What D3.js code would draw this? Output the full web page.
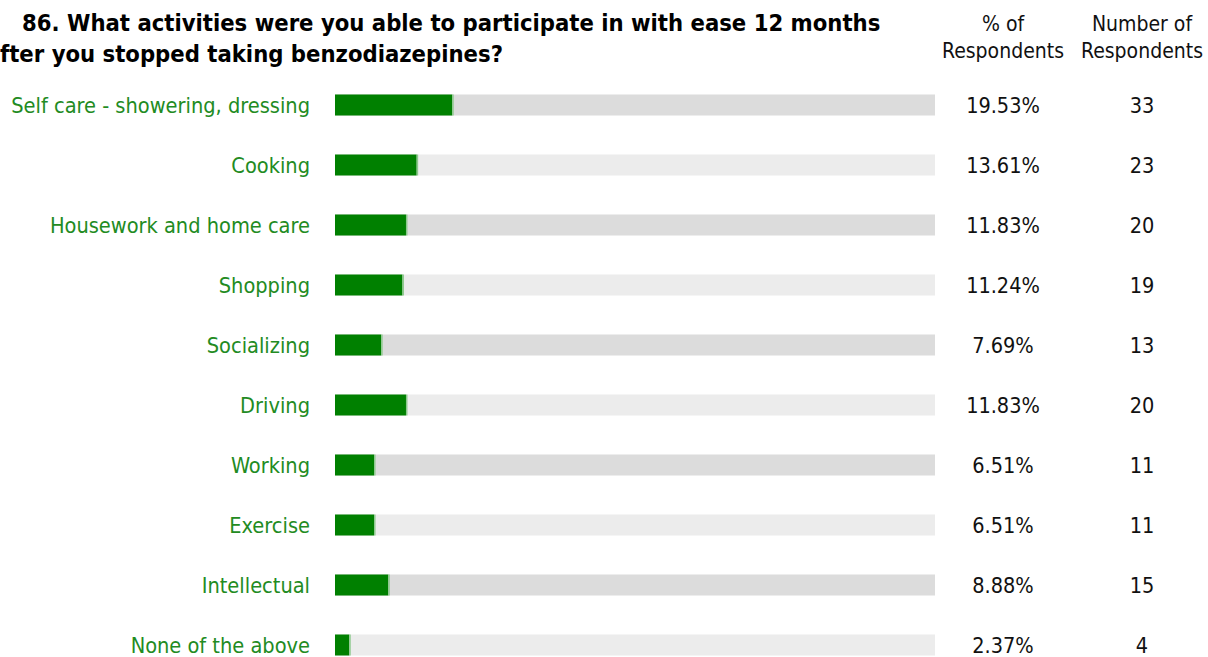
<!DOCTYPE html>
<html>
<head>
<meta charset="utf-8">
<title>Activities 12 months after benzodiazepines</title>
<style>
  body { margin: 0; background: #fff; }
  svg text { font-family: "DejaVu Sans Condensed", "DejaVu Sans", sans-serif; }
  .label { fill: #228b22; font-size: 21.6px; }
  .val { fill: #111; font-size: 21.5px; }
  .head { fill: #111; font-size: 21px; }
  .title { fill: #000; font-size: 23.6px; font-weight: bold; }
</style>
<script src="https://cdn.jsdelivr.net/npm/d3@7"></script>
</head>
<body>
<script>
// data
var categories = ["Self care - showering, dressing", "Cooking", "Housework and home care",
  "Shopping", "Socializing", "Driving", "Working", "Exercise", "Intellectual", "None of the above"];
var percents = [19.53, 13.61, 11.83, 11.24, 7.69, 11.83, 6.51, 6.51, 8.88, 2.37];
var counts = [33, 23, 20, 19, 13, 20, 11, 11, 15, 4];

var W = 1208, H = 657;
var svg = d3.select("body").append("svg")
  .attr("width", W).attr("height", H);

// scales
var x = d3.scaleLinear().domain([0, 100]).range([335, 935]);
var y = d3.scaleBand().domain(categories).range([75, 675]).paddingInner(0.65).paddingOuter(0.325);

// title
var title = svg.append("text").attr("class", "title");
title.append("tspan").attr("x", 22).attr("y", 31)
  .text("86. What activities were you able to participate in with ease 12 months");
var line2 = title.append("tspan").attr("y", 62).text("after you stopped taking benzodiazepines?");
// the leading "a" falls off the left edge, as in the original
var tmp = svg.append("text").attr("class", "title").text("a");
var aw = tmp.node().getComputedTextLength();
tmp.remove();
line2.attr("x", -aw);

// column heads
svg.append("text").attr("class", "head").attr("text-anchor", "middle")
  .selectAll("tspan").data(["% of", "Respondents"]).enter().append("tspan")
  .attr("x", 1003).attr("y", function(d, i) { return 31 + i * 27; }).text(function(d) { return d; });
svg.append("text").attr("class", "head").attr("text-anchor", "middle")
  .selectAll("tspan").data(["Number of", "Respondents"]).enter().append("tspan")
  .attr("x", 1142).attr("y", function(d, i) { return 31 + i * 27; }).text(function(d) { return d; });

var rows = svg.selectAll(".row").data(categories).enter().append("g").attr("class", "row");

// track
rows.append("rect")
  .attr("x", x(0)).attr("width", x(100) - x(0))
  .attr("y", function(d) { return y(d); }).attr("height", y.bandwidth())
  .attr("fill", function(d, i) { return i % 2 === 0 ? "#dcdcdc" : "#ececec"; });

// green bar
rows.append("rect")
  .attr("x", x(0))
  .attr("width", function(d, i) { return x(percents[i]) - x(0); })
  .attr("y", function(d) { return y(d); }).attr("height", y.bandwidth())
  .attr("fill", "#008000");

// light edge at the end of each bar
rows.append("rect")
  .attr("x", function(d, i) { return x(percents[i]); })
  .attr("width", 1.5)
  .attr("y", function(d) { return y(d); }).attr("height", y.bandwidth())
  .attr("fill", "#8cc98c");

// labels
rows.append("text").attr("class", "label")
  .attr("x", 310).attr("y", function(d) { return y(d) + y.bandwidth() / 2; })
  .attr("dy", "0.36em").attr("text-anchor", "end")
  .text(function(d) { return d; });

rows.append("text").attr("class", "val")
  .attr("x", 1003).attr("y", function(d) { return y(d) + y.bandwidth() / 2; })
  .attr("dy", "0.36em").attr("text-anchor", "middle")
  .text(function(d, i) { return percents[i].toFixed(2) + "%"; });

rows.append("text").attr("class", "val")
  .attr("x", 1142).attr("y", function(d) { return y(d) + y.bandwidth() / 2; })
  .attr("dy", "0.36em").attr("text-anchor", "middle")
  .text(function(d, i) { return counts[i]; });
</script>
</body>
</html>
